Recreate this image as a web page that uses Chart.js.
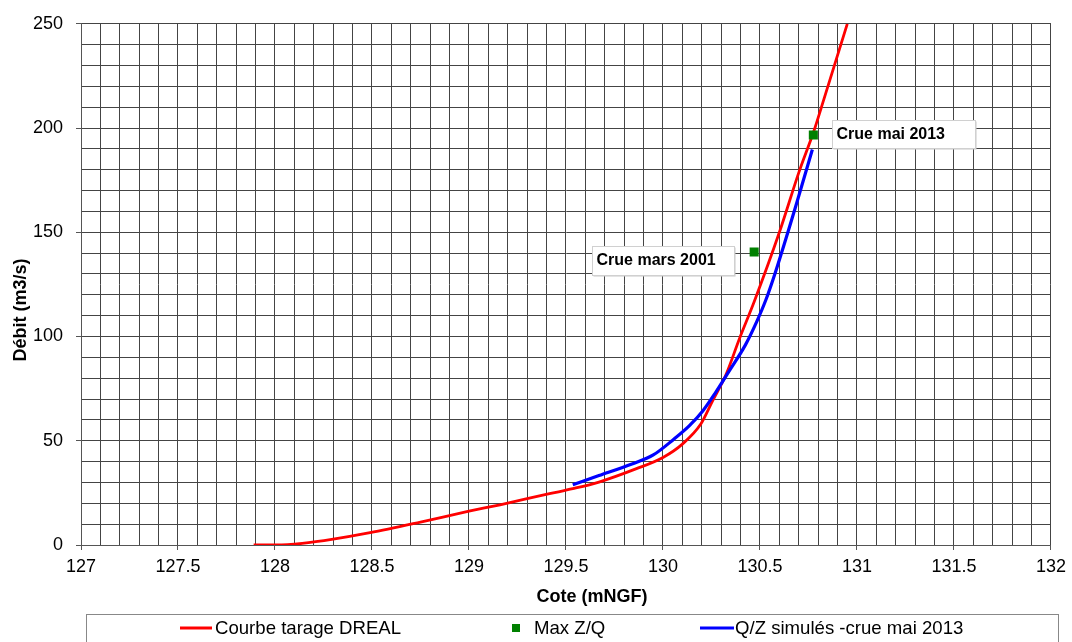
<!DOCTYPE html>
<html>
<head>
<meta charset="utf-8">
<script src="https://cdn.jsdelivr.net/npm/chart.js@4"></script>
<style>
    html, body { margin: 0; padding: 0; background: #fff; }
    #wrap { width: 1072px; height: 642px; }
</style>
</head>
<body>
<div id="wrap"><canvas id="chart" width="1072" height="642"></canvas></div>
<script>
// Courbe tarage DREAL
const redX = [127.89, 128.01, 128.14, 128.3, 128.49, 128.75, 129.0, 129.16, 129.415, 129.535, 129.67, 129.86, 130.0, 130.1, 130.195, 130.255, 130.325, 130.395, 130.47, 130.6, 130.7, 130.78, 130.83, 130.89, 130.95];
const redY = [0, 0, 0.8, 2.8, 5.9, 11, 16.2, 19.3, 24.6, 27.0, 30.2, 36.5, 42.0, 48.4, 58.0, 69.0, 81.8, 99.2, 116.7, 150, 178.6, 199.2, 214, 232, 250];

// Q/Z simulés -crue mai 2013
const blueX = [129.535, 129.67, 129.84, 129.95, 130.05, 130.135, 130.205, 130.27, 130.34, 130.425, 130.485, 130.53, 130.58, 130.69, 130.77];
const blueY = [28.9, 33.3, 38.9, 43.2, 50.3, 57.1, 64.3, 73, 83.3, 96, 107.5, 117.5, 131, 164.3, 189.7];

// Max Z/Q
const ptX = [130.47, 130.775];
const ptY = [140.5, 196.7];
const ptLabels = ["Crue mars 2001", "Crue mai 2013"];

const FONT = "Arial, 'Liberation Sans', sans-serif";

const toXY = (xs, ys) => xs.map((x, i) => ({ x: x, y: ys[i] }));

// label boxes next to the green points
const labelPlugin = {
    id: "crueLabels",
    afterDatasetsDraw(chart) {
        const ctx = chart.ctx;
        const meta = chart.getDatasetMeta(2);
        const offsets = [
            { dx: -162, dy: -6, w: 142, h: 29 },
            { dx: 19, dy: -15, w: 143, h: 28 },
        ];
        ctx.save();
        ctx.font = "bold 16px " + FONT;
        ctx.textBaseline = "middle";
        meta.data.forEach((pt, i) => {
            const o = offsets[i];
            const bx = Math.round(pt.x + o.dx) + 0.5;
            const by = Math.round(pt.y + o.dy) + 0.5;
            ctx.fillStyle = "#c8c8c8";
            ctx.fillRect(bx + 1, by + 1, o.w, o.h);
            ctx.fillStyle = "#fff";
            ctx.fillRect(bx, by, o.w, o.h);
            ctx.strokeStyle = "#d0d0d0";
            ctx.lineWidth = 1;
            ctx.strokeRect(bx, by, o.w, o.h);
            ctx.fillStyle = "#000";
            ctx.fillText(ptLabels[i], bx + 4, by + o.h / 2);
        });
        ctx.restore();
    },
};

// axis titles + legend frame
const framePlugin = {
    id: "frame",
    afterDraw(chart) {
        const ctx = chart.ctx;
        ctx.save();
        ctx.fillStyle = "#000";
        ctx.font = "bold 18px " + FONT;
        ctx.textAlign = "center";
        ctx.textBaseline = "middle";
        ctx.fillText("Cote (mNGF)", 592, 597);
        ctx.translate(21, 310);
        ctx.rotate(-Math.PI / 2);
        ctx.fillText("Débit (m3/s)", 0, 0);
        ctx.restore();

        // legend
        ctx.save();
        ctx.strokeStyle = "#888";
        ctx.lineWidth = 1;
        ctx.strokeRect(86.5, 614.5, 972, 40);
        ctx.font = "18.6px " + FONT;
        ctx.textBaseline = "middle";
        ctx.fillStyle = "#000";
        const ly = 628;
        ctx.strokeStyle = "#ff0000";
        ctx.lineWidth = 3;
        ctx.beginPath();
        ctx.moveTo(180, ly);
        ctx.lineTo(212, ly);
        ctx.stroke();
        ctx.fillText("Courbe tarage DREAL", 215, ly + 1);
        ctx.fillStyle = "#008000";
        ctx.fillRect(512, ly - 4, 8, 8);
        ctx.fillStyle = "#000";
        ctx.fillText("Max Z/Q", 534, ly + 1);
        ctx.strokeStyle = "#0000ff";
        ctx.beginPath();
        ctx.moveTo(700, ly);
        ctx.lineTo(734, ly);
        ctx.stroke();
        ctx.fillText("Q/Z simulés -crue mai 2013", 735, ly + 1);
        ctx.restore();
    },
};

new Chart(document.getElementById("chart"), {
    type: "scatter",
    data: {
        datasets: [
            {
                type: "line",
                label: "Courbe tarage DREAL",
                data: toXY(redX, redY),
                borderColor: "#ff0000",
                borderWidth: 2.8,
                pointRadius: 0,
                cubicInterpolationMode: "monotone",
                fill: false,
                order: 2,
            },
            {
                type: "line",
                label: "Q/Z simulés -crue mai 2013",
                data: toXY(blueX, blueY),
                borderColor: "#0000ff",
                borderWidth: 3.2,
                pointRadius: 0,
                cubicInterpolationMode: "monotone",
                fill: false,
                order: 1,
            },
            {
                label: "Max Z/Q",
                data: toXY(ptX, ptY),
                backgroundColor: "#008000",
                borderWidth: 0,
                pointStyle: "rect",
                pointRadius: 6.4,
                order: 0,
            },
        ],
    },
    options: {
        responsive: false,
        animation: false,
        layout: { padding: { top: 17, right: 21, left: 0, bottom: 0 } },
        plugins: {
            legend: { display: false },
            tooltip: { enabled: false },
        },
        scales: {
            x: {
                type: "linear",
                min: 127,
                max: 132,
                afterFit: (scale) => { scale.height = 97; },
                ticks: {
                    stepSize: 0.1,
                    maxTicksLimit: 1000,
                    autoSkip: false,
                    maxRotation: 0,
                    padding: 6,
                    color: "#000",
                    font: { family: FONT, size: 18 },
                    callback: (v) => {
                        const h = v * 2;
                        return Math.abs(h - Math.round(h)) < 1e-6 ? String(Math.round(h) / 2) : "";
                    },
                },
                grid: {
                    color: "#444",
                    lineWidth: 1,
                    tickLength: 5,
                    tickColor: (c) => {
                        const h = c.tick.value * 2;
                        return Math.abs(h - Math.round(h)) < 1e-6 ? "#555" : "rgba(0,0,0,0)";
                    },
                },
                border: { color: "#555" },
            },
            y: {
                type: "linear",
                min: 0,
                max: 250,
                afterFit: (scale) => { scale.width = 81; },
                ticks: {
                    stepSize: 10,
                    maxTicksLimit: 1000,
                    autoSkip: false,
                    padding: 13,
                    color: "#000",
                    font: { family: FONT, size: 18 },
                    callback: (v) => (v % 50 === 0 ? String(v) : ""),
                },
                grid: {
                    color: "#444",
                    lineWidth: 1,
                    tickLength: 5,
                    tickColor: (c) => (c.tick.value % 50 === 0 ? "#555" : "rgba(0,0,0,0)"),
                },
                border: { color: "#555" },
            },
        },
    },
    plugins: [labelPlugin, framePlugin],
});
</script>
</body>
</html>
